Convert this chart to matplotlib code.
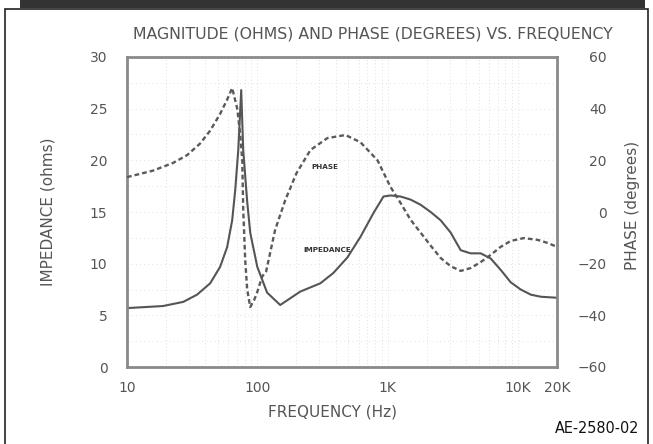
import numpy as np
import matplotlib
matplotlib.use('Agg')
import matplotlib.pyplot as plt
from matplotlib.patches import Rectangle

## Plotting canvas properties.
params = {'font.family': 'DejaVu Sans',
          'axes.linewidth': 2.0,
          'axes.edgecolor': '#8a8a8a',
          'xtick.color': '#8a8a8a',
          'ytick.color': '#8a8a8a',
          }
matplotlib.rcParams.update(params)

# impedance magnitude (ohms)
imp_freq = [10, 18.9, 27, 34.5, 43.5, 51.9, 58.7, 64.2, 67.7, 71.5, 75.3, 78,
            83.7, 88.3, 100, 119, 150, 214, 305, 384, 492, 620, 780, 931,
            1054, 1259, 1503, 1795, 2143, 2557, 3055, 3646, 4350, 5190,
            6194, 7391, 8820, 10530, 12590, 15030, 20000]
imp_ohms = [5.7, 5.9, 6.3, 7.0, 8.1, 9.7, 11.6, 14.2, 17.1, 21.0, 26.8, 21.0,
            16.0, 13.0, 9.7, 7.2, 6.0, 7.3, 8.1, 9.1, 10.6, 12.6, 14.9, 16.5,
            16.6, 16.5, 16.2, 15.7, 15.0, 14.2, 13.0, 11.3, 11.0, 11.0,
            10.5, 9.4, 8.2, 7.5, 7.0, 6.8, 6.7]

# phase (degrees)
ph_freq = [10, 15.8, 22.6, 28.9, 36.4, 43.5, 51.9, 58.7, 64.2, 70.2, 74, 76.7,
           78, 80.8, 83.7, 88.3, 94.8, 100, 109, 117, 137, 164, 200, 256, 345,
           475, 620, 838, 1054, 1259, 1503, 1795, 2143, 2557, 3055, 3646,
           4350, 5190, 6194, 7391, 8820, 11120, 14250, 17000, 20000]
ph_deg = [13.5, 16, 19, 22, 26.5, 31.5, 38, 43.5, 48, 40, 30, 20,
          1, -18.6, -30, -36.8, -34, -31, -25, -23, -7, 4.6, 15, 24, 28.6,
          29.8, 27, 20, 9.7, 3.5, -3, -8, -13, -17.8, -21, -22.8,
          -21.7, -19.4, -16.6, -13.5, -11.2, -10.1, -10.8, -12, -13.5]

x_ticks = [10, 100, 1000, 10000, 20000]
x_labels = ['10', '100', '1K', '10K', '20K']
imp_ticks = [0, 5, 10, 15, 20, 25, 30]
ph_ticks = [-60, -40, -20, 0, 20, 40, 60]
ph_labels = ['\u221260', '\u221240', '\u221220', '0', '20', '40', '60']

txt = '#555555'

fig = plt.figure(figsize=(6.53, 4.44), dpi=100)

# outer frame and the dark strip at the top
fig.add_artist(Rectangle((5/653, -0.05), 643/653, 1.05 - 9/444, transform=fig.transFigure,
                         fill=False, edgecolor='#222222', linewidth=1.2))
fig.add_artist(Rectangle((20/653, 1 - 8/444), 625/653, 8/444, transform=fig.transFigure,
                         facecolor='#333333', edgecolor='none'))

ax = fig.add_axes([127/653, 1 - 367/444, 430/653, 310/444])
ax.set_xscale('log')
ax.set_xlim(10, 20000)
ax.set_ylim(0, 30)

# faint dotted grid
ax.grid(True, which='both', axis='x', color='#d6d6d6', linestyle=(0, (1, 3)), linewidth=0.6)
ax.set_yticks(np.arange(0, 30, 2.5), minor=True)
ax.grid(True, which='both', axis='y', color='#d6d6d6', linestyle=(0, (1, 4)), linewidth=0.6)
ax.set_axisbelow(True)

ax.plot(imp_freq, imp_ohms, color='#555555', linewidth=1.5)

ax.set_xticks(x_ticks)
ax.set_xticklabels(x_labels)
ax.xaxis.set_minor_formatter(matplotlib.ticker.NullFormatter())
ax.set_yticks(imp_ticks)
ax.tick_params(axis='both', which='both', length=0, labelcolor=txt, labelsize=10)
ax.tick_params(axis='x', pad=10)
ax.tick_params(axis='y', pad=14)

ax2 = ax.twinx()
ax2.set_ylim(-60, 60)
ax2.set_yticks(ph_ticks)
ax2.set_yticklabels(ph_labels)
ax2.plot(ph_freq, ph_deg, color='#5a5a5a', linewidth=1.7, linestyle=(0, (2, 1.3)))
ax2.tick_params(axis='y', length=0, labelcolor=txt, labelsize=10, pad=36)
for lab in ax2.get_yticklabels():
    lab.set_horizontalalignment('right')
for s in ax2.spines.values():
    s.set_visible(False)

# small curve labels
ax.text(333, 19.4, 'PHASE', fontsize=5.2, fontweight='bold', color='#333333',
        ha='center', va='center')
ax.text(345, 11.3, 'IMPEDANCE', fontsize=5.2, fontweight='bold', color='#333333',
        ha='center', va='center')

fig.text(373/653, 1 - 34/444, 'MAGNITUDE (OHMS) AND PHASE (DEGREES) VS. FREQUENCY',
         ha='center', va='center', fontsize=11.3, color=txt)
fig.text(333/653, 1 - 412/444, 'FREQUENCY (Hz)', ha='center', va='center',
         fontsize=11, color=txt)
fig.text(48/653, 1 - 212/444, 'IMPEDANCE (ohms)', ha='center', va='center',
         rotation=90, fontsize=11, color=txt)
fig.text(632/653, 1 - 205/444, 'PHASE (degrees)', ha='center', va='center',
         rotation=90, fontsize=11, color=txt)
fig.text(639/653, 1 - 428/444, 'AE-2580-02', ha='right', va='center',
         fontsize=11.5, color='#111111', fontstretch='condensed',
         family=['Liberation Sans Narrow', 'DejaVu Sans'])

plt.savefig('out.png', dpi=100)
